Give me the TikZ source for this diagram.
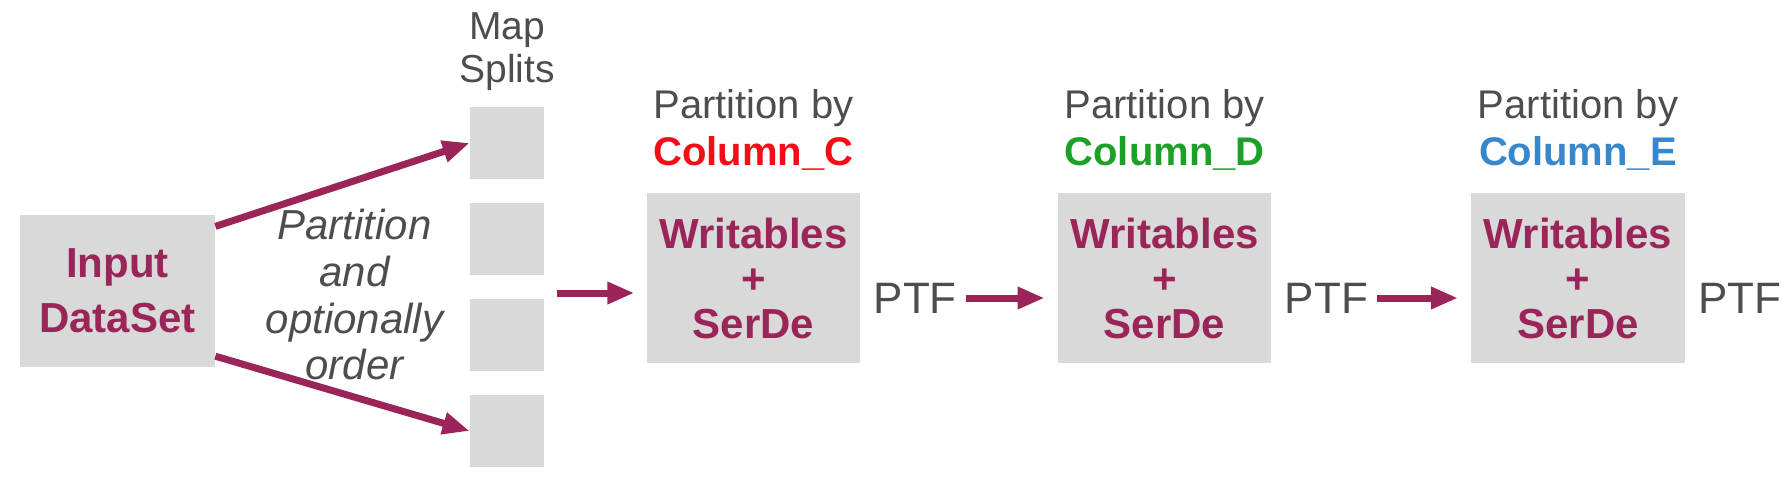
\documentclass[tikz,border=0pt]{standalone}
\usepackage{fontspec}
\setmainfont{Liberation Sans}
\usetikzlibrary{arrows.meta,positioning}

\definecolor{plum}{RGB}{155,36,88}
\definecolor{boxgray}{RGB}{217,217,217}
\definecolor{txtgray}{RGB}{77,77,77}
\definecolor{colC}{RGB}{245,12,22}
\definecolor{colD}{RGB}{28,160,38}
\definecolor{colE}{RGB}{55,135,205}

\begin{document}
\begin{tikzpicture}[x=1pt, y=1pt,
    blk/.style={fill=boxgray, inner sep=0pt, align=center, text=plum, minimum width=106.7pt, minimum height=85pt, font=\fontsize{21}{22.5}\selectfont\bfseries},
    split/.style={fill=boxgray, inner sep=0pt, minimum width=37pt, minimum height=36pt},
    lbl/.style={align=center, text=txtgray, inner sep=0pt, font=\fontsize{20}{23.3}\selectfont},
    ptf/.style={text=txtgray, inner sep=0pt, font=\fontsize{22}{22}\selectfont},
    arr/.style={-{Triangle[length=13.5pt, width=10.5pt]}, line width=3.5pt, draw=plum}
  ]
    \useasboundingbox (0,0) rectangle (895,239);
    \node[blk, minimum width=97.5pt, minimum height=76pt, font=\fontsize{21}{27.5}\selectfont\bfseries] (input) at (58.75,93.6) {Input\\DataSet};
    \node[split] (s1) at (253.5,167.5) {};
    \node[split] (s2) at (253.5,119.5) {};
    \node[split] (s3) at (253.5,71.5) {};
    \node[split] (s4) at (253.5,23.5) {};
    \node[lbl, font=\fontsize{19.5}{21.5}\selectfont, above=8pt of s1] (maplbl) {Map\\Splits};
    \node[lbl, font=\fontsize{21}{23.3}\selectfont\itshape, right=25pt of input, yshift=-2pt] (how) {Partition\\and\\optionally\\order};
    \draw[arr] ([yshift=-6pt]input.north east) -- (s1.west);
    \draw[arr] ([yshift=5.5pt]input.south east) -- (s4.west);

    % three partition stages
    \node[blk] (box1) at (376.7,100) {Writables\\+\\SerDe};
    \node[blk] (box2) at (582.3,100) {Writables\\+\\SerDe};
    \node[blk] (box3) at (789,100) {Writables\\+\\SerDe};
    \node[lbl, above=11pt of box1] (by1) {Partition by\\{\bfseries\color{colC}Column\_C}};
    \node[lbl, above=11pt of box2] (by2) {Partition by\\{\bfseries\color{colD}Column\_D}};
    \node[lbl, above=11pt of box3] (by3) {Partition by\\{\bfseries\color{colE}Column\_E}};
    \node[ptf, right=6.4pt of box1, yshift=-10pt] (ptf1) {PTF};
    \node[ptf, right=6.4pt of box2, yshift=-10pt] (ptf2) {PTF};
    \node[ptf, right=6.4pt of box3, yshift=-10pt] (ptf3) {PTF};

    \coordinate (feed) at (278.5,92.5);
    \draw[arr, shorten >=6pt] (feed) -- (feed -| box1.west);
    \draw[arr, shorten <=4.5pt, shorten >=6.5pt] (ptf1.east) -- (ptf1.east -| box2.west);
    \draw[arr, shorten <=4.5pt, shorten >=6.5pt] (ptf2.east) -- (ptf2.east -| box3.west);
\end{tikzpicture}
\end{document}
